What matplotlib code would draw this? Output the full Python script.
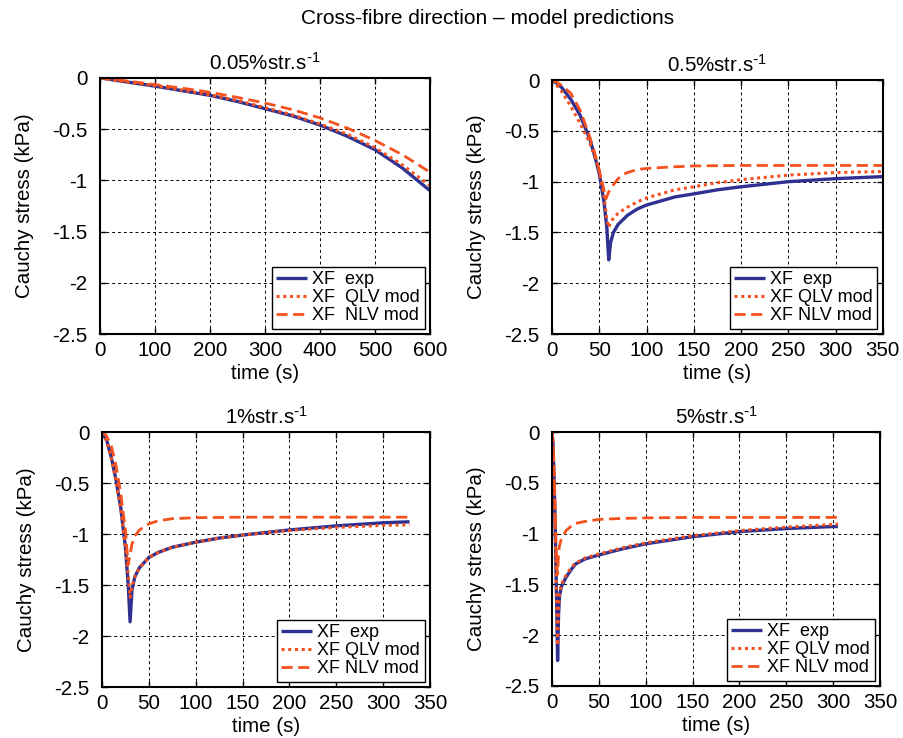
import matplotlib
matplotlib.use("Agg")
import matplotlib.pyplot as plt

plt.rcParams['font.family'] = ['Liberation Sans', 'DejaVu Sans']
plt.rcParams['mathtext.default'] = 'regular'
plt.rcParams['axes.unicode_minus'] = False

BLUE = '#2e3192'
RED = '#f4511e'

# ---- data ----
titles = ['0.05%str.s$^{\\text{-}1}$', '0.5%str.s$^{\\text{-}1}$', '1%str.s$^{\\text{-}1}$', '5%str.s$^{\\text{-}1}$']
labels_tl = ['XF  exp', 'XF  QLV mod', 'XF  NLV mod']
labels_other = ['XF  exp', 'XF QLV mod', 'XF NLV mod']

t1 = [0, 50, 100, 150, 200, 250, 300, 350, 400, 450, 500, 550, 600]
exp1 = [0, -0.04, -0.08, -0.125, -0.17, -0.23, -0.30, -0.37, -0.46, -0.57, -0.70, -0.88, -1.10]
qlv1 = [0, -0.04, -0.075, -0.12, -0.165, -0.22, -0.29, -0.36, -0.45, -0.55, -0.68, -0.85, -1.05]
nlv1 = [0, -0.03, -0.065, -0.10, -0.14, -0.19, -0.245, -0.31, -0.39, -0.49, -0.61, -0.75, -0.92]

t2 = [0, 5, 10, 20, 30, 40, 45, 50, 55, 58, 60, 62, 65, 70, 80, 90, 100, 115, 130, 150, 175, 200, 250, 300, 350]
exp2 = [0, -0.03, -0.07, -0.19, -0.35, -0.58, -0.74, -0.92, -1.2, -1.45, -1.77, -1.6, -1.5, -1.42,
        -1.33, -1.27, -1.23, -1.19, -1.15, -1.12, -1.08, -1.05, -1.0, -0.97, -0.95]
qlv2 = [0, -0.05, -0.11, -0.26, -0.43, -0.62, -0.74, -0.89, -1.13, -1.38, -1.45, -1.40, -1.36, -1.31,
        -1.25, -1.20, -1.16, -1.12, -1.08, -1.05, -1.01, -0.98, -0.935, -0.91, -0.90]
t2n = [0, 5, 10, 20, 30, 40, 45, 50, 55, 57, 60, 65, 70, 75, 80, 90, 100, 125, 150, 200, 250, 300, 350]
nlv2 = [0, -0.02, -0.05, -0.13, -0.30, -0.56, -0.71, -0.89, -1.08, -1.17, -1.10, -1.03, -0.97, -0.93,
        -0.91, -0.88, -0.87, -0.855, -0.845, -0.84, -0.84, -0.84, -0.84]

t3 = [0, 5, 10, 15, 20, 25, 28, 30, 32, 35, 40, 50, 60, 75, 100, 125, 150, 200, 250, 300, 328]
exp3 = [0, -0.08, -0.25, -0.47, -0.74, -1.13, -1.5, -1.86, -1.55, -1.42, -1.33, -1.23, -1.18, -1.13,
        -1.08, -1.04, -1.01, -0.96, -0.92, -0.89, -0.88]
qlv3 = [0, -0.09, -0.26, -0.48, -0.75, -1.12, -1.4, -1.62, -1.52, -1.42, -1.33, -1.23, -1.18, -1.13,
        -1.08, -1.04, -1.01, -0.965, -0.935, -0.915, -0.91]
t3n = [0, 5, 10, 15, 20, 25, 28, 30, 32, 35, 40, 50, 60, 75, 100, 150, 200, 250, 300, 328]
nlv3 = [0, -0.04, -0.14, -0.33, -0.60, -0.96, -1.3, -1.2, -1.1, -1.02, -0.96, -0.90, -0.87, -0.85,
        -0.84, -0.835, -0.835, -0.835, -0.835, -0.835]

t4 = [0, 1, 2, 3, 4, 5, 6, 7, 8, 10, 15, 20, 25, 35, 50, 75, 100, 150, 200, 250, 300, 305]
exp4 = [0, -0.1, -0.38, -0.75, -1.2, -1.7, -2.25, -1.8, -1.62, -1.52, -1.43, -1.36, -1.30, -1.25,
        -1.21, -1.15, -1.10, -1.03, -0.98, -0.95, -0.93, -0.93]
qlv4 = [0, -0.12, -0.40, -0.78, -1.22, -1.7, -2.1, -1.75, -1.6, -1.5, -1.41, -1.34, -1.29, -1.24,
        -1.2, -1.14, -1.09, -1.02, -0.97, -0.935, -0.91, -0.905]
nlv4 = [0, -0.08, -0.3, -0.62, -1.0, -1.3, -1.4, -1.2, -1.12, -1.05, -0.97, -0.93, -0.90, -0.88,
        -0.86, -0.85, -0.845, -0.84, -0.84, -0.84, -0.84, -0.84]

series = [
    (t1, exp1, t1, qlv1, t1, nlv1, 600, [0, 100, 200, 300, 400, 500, 600], labels_tl),
    (t2, exp2, t2, qlv2, t2n, nlv2, 350, [0, 50, 100, 150, 200, 250, 300, 350], labels_other),
    (t3, exp3, t3, qlv3, t3n, nlv3, 350, [0, 50, 100, 150, 200, 250, 300, 350], labels_other),
    (t4, exp4, t4, qlv4, t4, nlv4, 350, [0, 50, 100, 150, 200, 250, 300, 350], labels_other),
]
yticks = [0, -0.5, -1, -1.5, -2, -2.5]
ytick_labels = ['0', '-0.5', '-1', '-1.5', '-2', '-2.5']

fig = plt.figure(figsize=(9.04, 7.38), dpi=100)
positions = [
    [0.1106, 0.5474, 0.365, 0.347],
    [0.6106, 0.5474, 0.366, 0.344],
    [0.1128, 0.0691, 0.363, 0.3455],
    [0.6106, 0.0705, 0.363, 0.344],
]

FS = 14.8
for pos, title, (ta, ya, tb, yb, tc, yc, xmax, xt, labs) in zip(positions, titles, series):
    ax = fig.add_axes(pos)
    ax.plot(ta, ya, color=BLUE, lw=2.4, solid_capstyle='butt', label=labs[0])
    ax.plot(tb, yb, color=RED, lw=2.2, linestyle=(0, (1, 1.2)), label=labs[1])
    ax.plot(tc, yc, color=RED, lw=2.0, linestyle=(0, (4, 2)), label=labs[2])
    ax.set_xlim(0, xmax)
    ax.set_ylim(-2.5, 0)
    ax.set_xticks(xt)
    ax.set_yticks(yticks)
    ax.set_yticklabels(ytick_labels)
    ax.grid(True, color='black', linestyle=(0, (3, 3)), linewidth=0.7)
    ax.tick_params(direction='in', top=True, right=True, labelsize=FS, length=4, width=1)
    ax.tick_params(axis='x', pad=5)
    ax.tick_params(axis='y', pad=9)
    for s in ax.spines.values():
        s.set_linewidth(1.5)
    ax.set_title(title, fontsize=FS, pad=6)
    ax.set_xlabel('time (s)', fontsize=FS, labelpad=3)
    ax.set_ylabel('Cauchy stress (kPa)', fontsize=FS, labelpad=13)
    leg = ax.legend(loc='lower right', fontsize=13, frameon=True, fancybox=False,
                    edgecolor='black', framealpha=1, handlelength=1.7, borderpad=0.25,
                    labelspacing=0.05, handletextpad=0.3, borderaxespad=0.3)
    leg.get_frame().set_linewidth(1.0)

fig.suptitle('Cross-fibre direction \u2013 model predictions', fontsize=15, x=0.539, y=0.988)
fig.savefig('out.png', dpi=100)
